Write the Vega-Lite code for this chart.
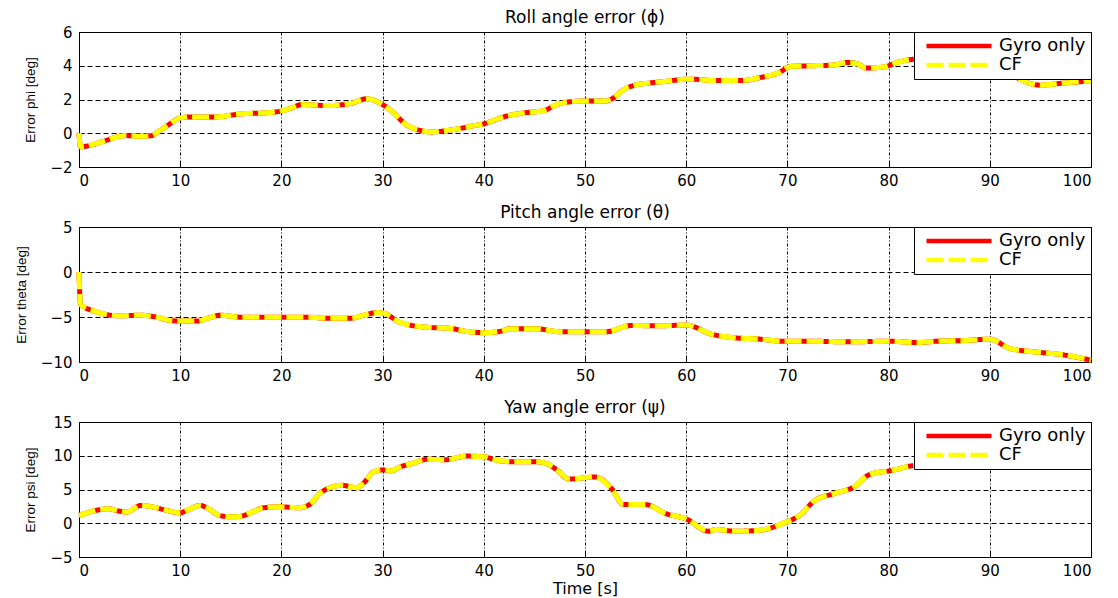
{
  "$schema": "https://vega.github.io/schema/vega-lite/v6.json",
  "background": "white",
  "padding": {"left": 13, "top": 8, "right": 5, "bottom": 0},
  "spacing": 60,
  "bounds": "flush",
  "datasets": {
    "roll": [
      {"t": 0, "v": 0.0}, {"t": 0.15, "v": -0.8}, {"t": 2.4, "v": -0.48}, {"t": 4, "v": -0.18}, {"t": 4.7, "v": -0.14},
      {"t": 6.1, "v": -0.18}, {"t": 7.2, "v": -0.14}, {"t": 7.9, "v": 0.12}, {"t": 8.9, "v": 0.52}, {"t": 10, "v": 0.91},
      {"t": 11, "v": 0.97}, {"t": 13.5, "v": 0.97}, {"t": 16, "v": 1.15}, {"t": 18.5, "v": 1.21}, {"t": 19.9, "v": 1.31},
      {"t": 21, "v": 1.5}, {"t": 22, "v": 1.7}, {"t": 24.5, "v": 1.64}, {"t": 26.8, "v": 1.76}, {"t": 28.4, "v": 2.04},
      {"t": 30, "v": 1.7}, {"t": 30.9, "v": 1.31}, {"t": 32.3, "v": 0.52}, {"t": 33.8, "v": 0.16}, {"t": 34.8, "v": 0.08},
      {"t": 37, "v": 0.22}, {"t": 39.1, "v": 0.46}, {"t": 40, "v": 0.56}, {"t": 40.8, "v": 0.72}, {"t": 42.2, "v": 1.01},
      {"t": 44, "v": 1.21}, {"t": 46, "v": 1.35}, {"t": 47, "v": 1.65}, {"t": 48.3, "v": 1.85}, {"t": 50, "v": 1.91},
      {"t": 51.9, "v": 1.91}, {"t": 52.7, "v": 2.05}, {"t": 53.8, "v": 2.57}, {"t": 54.9, "v": 2.85}, {"t": 56.3, "v": 2.97},
      {"t": 58.2, "v": 3.09}, {"t": 60, "v": 3.2}, {"t": 60.7, "v": 3.2}, {"t": 62.9, "v": 3.12}, {"t": 65.5, "v": 3.12},
      {"t": 67.3, "v": 3.3}, {"t": 69.2, "v": 3.6}, {"t": 70.3, "v": 3.96}, {"t": 72.4, "v": 4.0}, {"t": 74.5, "v": 4.04},
      {"t": 76.1, "v": 4.2}, {"t": 77.2, "v": 4.04}, {"t": 77.7, "v": 3.86}, {"t": 79.7, "v": 3.94}, {"t": 80.4, "v": 4.1},
      {"t": 81.5, "v": 4.3}, {"t": 84, "v": 4.45}, {"t": 87, "v": 4.5}, {"t": 90, "v": 4.2}, {"t": 92, "v": 3.5},
      {"t": 92.8, "v": 3.26}, {"t": 94.3, "v": 2.9}, {"t": 95, "v": 2.85}, {"t": 97.2, "v": 2.97}, {"t": 100, "v": 3.1}
    ],
    "pitch": [
      {"t": 0, "v": 0.0}, {"t": 0.15, "v": -3.6}, {"t": 1.5, "v": -4.34}, {"t": 2.6, "v": -4.7}, {"t": 4, "v": -4.87},
      {"t": 6.1, "v": -4.8}, {"t": 7.5, "v": -4.98}, {"t": 8.9, "v": -5.36}, {"t": 10, "v": -5.45}, {"t": 11.6, "v": -5.45},
      {"t": 13.2, "v": -4.98}, {"t": 13.9, "v": -4.8}, {"t": 16, "v": -5.02}, {"t": 19.9, "v": -5.03}, {"t": 22.8, "v": -5.03},
      {"t": 24.5, "v": -5.15}, {"t": 26.8, "v": -5.15}, {"t": 28.4, "v": -4.72}, {"t": 29.5, "v": -4.5}, {"t": 30.2, "v": -4.6},
      {"t": 31.6, "v": -5.54}, {"t": 32.7, "v": -5.9}, {"t": 34.5, "v": -6.15}, {"t": 36.6, "v": -6.25}, {"t": 38.3, "v": -6.6},
      {"t": 40, "v": -6.74}, {"t": 41.6, "v": -6.6}, {"t": 42.6, "v": -6.3}, {"t": 45.1, "v": -6.3}, {"t": 47.6, "v": -6.64},
      {"t": 50, "v": -6.64}, {"t": 52.1, "v": -6.64}, {"t": 54.5, "v": -5.95}, {"t": 57.4, "v": -5.97}, {"t": 60, "v": -5.9},
      {"t": 62.6, "v": -6.94}, {"t": 64.7, "v": -7.3}, {"t": 67.3, "v": -7.46}, {"t": 69.5, "v": -7.69}, {"t": 72.1, "v": -7.69},
      {"t": 76.1, "v": -7.76}, {"t": 80, "v": -7.69}, {"t": 82.9, "v": -7.84}, {"t": 84.7, "v": -7.69}, {"t": 87.6, "v": -7.61},
      {"t": 90, "v": -7.46}, {"t": 92, "v": -8.5}, {"t": 94.5, "v": -8.88}, {"t": 97.1, "v": -9.18}, {"t": 99.3, "v": -9.63},
      {"t": 100, "v": -9.8}
    ],
    "yaw": [
      {"t": 0, "v": 1.14}, {"t": 1.8, "v": 1.94}, {"t": 2.9, "v": 2.14}, {"t": 4, "v": 1.79}, {"t": 4.7, "v": 1.64},
      {"t": 6.1, "v": 2.64}, {"t": 7.2, "v": 2.44}, {"t": 8.6, "v": 1.94}, {"t": 10, "v": 1.54}, {"t": 10.7, "v": 1.94},
      {"t": 12, "v": 2.64}, {"t": 12.8, "v": 2.14}, {"t": 13.9, "v": 1.14}, {"t": 15, "v": 0.95}, {"t": 16, "v": 1.04},
      {"t": 17.1, "v": 1.64}, {"t": 18.2, "v": 2.29}, {"t": 19.9, "v": 2.44}, {"t": 21.7, "v": 2.29}, {"t": 22.8, "v": 2.79},
      {"t": 23.8, "v": 4.43}, {"t": 25.1, "v": 5.42}, {"t": 26, "v": 5.62}, {"t": 27.4, "v": 5.27}, {"t": 28.1, "v": 5.92},
      {"t": 29.1, "v": 7.6}, {"t": 30, "v": 7.9}, {"t": 30.9, "v": 7.76}, {"t": 31.6, "v": 8.26}, {"t": 33, "v": 8.9},
      {"t": 34.5, "v": 9.5}, {"t": 36.2, "v": 9.4}, {"t": 38.3, "v": 9.95}, {"t": 40, "v": 9.85}, {"t": 41.1, "v": 9.4},
      {"t": 42.9, "v": 9.1}, {"t": 45.1, "v": 9.1}, {"t": 46.1, "v": 8.9}, {"t": 47.2, "v": 7.93}, {"t": 48.4, "v": 6.55},
      {"t": 51, "v": 6.85}, {"t": 52.7, "v": 5.0}, {"t": 53.8, "v": 2.76}, {"t": 56, "v": 2.76}, {"t": 58, "v": 1.43},
      {"t": 60, "v": 0.64}, {"t": 62.2, "v": -1.18}, {"t": 62.9, "v": -0.94}, {"t": 64.9, "v": -1.18}, {"t": 67.3, "v": -1.03},
      {"t": 69.5, "v": -0.05}, {"t": 71.3, "v": 1.28}, {"t": 72.6, "v": 3.25}, {"t": 74.6, "v": 4.4}, {"t": 76.6, "v": 5.4},
      {"t": 78.1, "v": 7.2}, {"t": 80.4, "v": 7.85}, {"t": 81.9, "v": 8.4}, {"t": 85, "v": 9.0}, {"t": 90, "v": 9.6},
      {"t": 95, "v": 10.1}, {"t": 100, "v": 10.4}
    ]
  },
  "resolve": {
    "scale": {"color": "independent", "strokeDash": "independent", "x": "independent", "y": "independent"},
    "legend": {"color": "independent", "strokeDash": "independent"}
  },
  "config": {
    "view": {"stroke": "black", "strokeWidth": 1},
    "font": "DejaVu Sans",
    "axis": {
      "domainColor": "black", "tickColor": "black", "gridColor": "black", "gridOpacity": 1, "gridWidth": 1,
      "labelFont": "DejaVu Sans", "labelFontSize": 15, "labelColor": "black",
      "titleFont": "Liberation Sans", "titleFontSize": 13.5, "titleFontWeight": "normal", "titleColor": "black",
      "tickSize": -5, "tickWidth": 1
    },
    "axisX": {"gridDash": [3, 2, 1, 2], "labelPadding": 11, "titleFont": "DejaVu Sans", "titleFontSize": 16, "titlePadding": 2},
    "axisY": {"gridDash": [5, 3], "labelPadding": 12, "titlePadding": 12},
    "title": {"font": "DejaVu Sans", "fontSize": 17, "fontWeight": "normal", "color": "black", "anchor": "middle", "frame": "group", "offset": -2},
    "legend": {
      "orient": "top-right", "offset": 0, "padding": 5, "strokeColor": "black", "fillColor": "white",
      "labelFont": "DejaVu Sans", "labelFontSize": 18, "labelColor": "black", "labelOffset": 31,
      "symbolType": "M-5,0H5", "symbolSize": 169, "symbolStrokeWidth": 4.5, "symbolOffset": 31, "rowPadding": 1,
      "cornerRadius": 0, "title": null
    }
  },
  "vconcat": [
    {
      "title": {"text": "Roll angle error (ϕ)"},
      "width": 1012, "height": 135,
      "data": {"name": "roll"},
      "encoding": {
        "x": {"field": "t", "type": "quantitative", "scale": {"domain": [0, 100], "nice": false}, "axis": {"title": null, "values": [0, 10, 20, 30, 40, 50, 60, 70, 80, 90, 100]}},
        "y": {"field": "v", "type": "quantitative", "scale": {"domain": [-2, 6], "nice": false}, "axis": {"title": "Error phi [deg]", "values": [-2, 0, 2, 4, 6]}}
      },
      "layer": [
        {"mark": {"type": "line", "strokeWidth": 5, "interpolate": "monotone"},
         "encoding": {
           "color": {"datum": "Gyro only", "type": "nominal", "scale": {"domain": ["Gyro only", "CF"], "range": ["#ff0000", "#ffff00"]}, "legend": {"title": null}},
           "strokeDash": {"datum": "Gyro only", "type": "nominal", "scale": {"domain": ["Gyro only", "CF"], "range": [[1, 0], [17, 5]]}, "legend": {"title": null}}
         }},
        {"mark": {"type": "line", "strokeWidth": 5, "interpolate": "monotone"},
         "encoding": {
           "color": {"datum": "CF", "type": "nominal"},
           "strokeDash": {"datum": "CF", "type": "nominal"}
         }}
      ]
    },
    {
      "title": {"text": "Pitch angle error (θ)"},
      "width": 1012, "height": 135,
      "data": {"name": "pitch"},
      "encoding": {
        "x": {"field": "t", "type": "quantitative", "scale": {"domain": [0, 100], "nice": false}, "axis": {"title": null, "values": [0, 10, 20, 30, 40, 50, 60, 70, 80, 90, 100]}},
        "y": {"field": "v", "type": "quantitative", "scale": {"domain": [-10, 5], "nice": false}, "axis": {"title": "Error theta [deg]", "values": [-10, -5, 0, 5]}}
      },
      "layer": [
        {"mark": {"type": "line", "strokeWidth": 5, "interpolate": "monotone"},
         "encoding": {
           "color": {"datum": "Gyro only", "type": "nominal", "scale": {"domain": ["Gyro only", "CF"], "range": ["#ff0000", "#ffff00"]}, "legend": {"title": null}},
           "strokeDash": {"datum": "Gyro only", "type": "nominal", "scale": {"domain": ["Gyro only", "CF"], "range": [[1, 0], [17, 5]]}, "legend": {"title": null}}
         }},
        {"mark": {"type": "line", "strokeWidth": 5, "interpolate": "monotone"},
         "encoding": {
           "color": {"datum": "CF", "type": "nominal"},
           "strokeDash": {"datum": "CF", "type": "nominal"}
         }}
      ]
    },
    {
      "title": {"text": "Yaw angle error (ψ)"},
      "width": 1012, "height": 135,
      "data": {"name": "yaw"},
      "encoding": {
        "x": {"field": "t", "type": "quantitative", "scale": {"domain": [0, 100], "nice": false}, "axis": {"title": "Time [s]", "values": [0, 10, 20, 30, 40, 50, 60, 70, 80, 90, 100]}},
        "y": {"field": "v", "type": "quantitative", "scale": {"domain": [-5, 15], "nice": false}, "axis": {"title": "Error psi [deg]", "values": [-5, 0, 5, 10, 15]}}
      },
      "layer": [
        {"mark": {"type": "line", "strokeWidth": 5, "interpolate": "monotone"},
         "encoding": {
           "color": {"datum": "Gyro only", "type": "nominal", "scale": {"domain": ["Gyro only", "CF"], "range": ["#ff0000", "#ffff00"]}, "legend": {"title": null}},
           "strokeDash": {"datum": "Gyro only", "type": "nominal", "scale": {"domain": ["Gyro only", "CF"], "range": [[1, 0], [17, 5]]}, "legend": {"title": null}}
         }},
        {"mark": {"type": "line", "strokeWidth": 5, "interpolate": "monotone"},
         "encoding": {
           "color": {"datum": "CF", "type": "nominal"},
           "strokeDash": {"datum": "CF", "type": "nominal"}
         }}
      ]
    }
  ]
}
